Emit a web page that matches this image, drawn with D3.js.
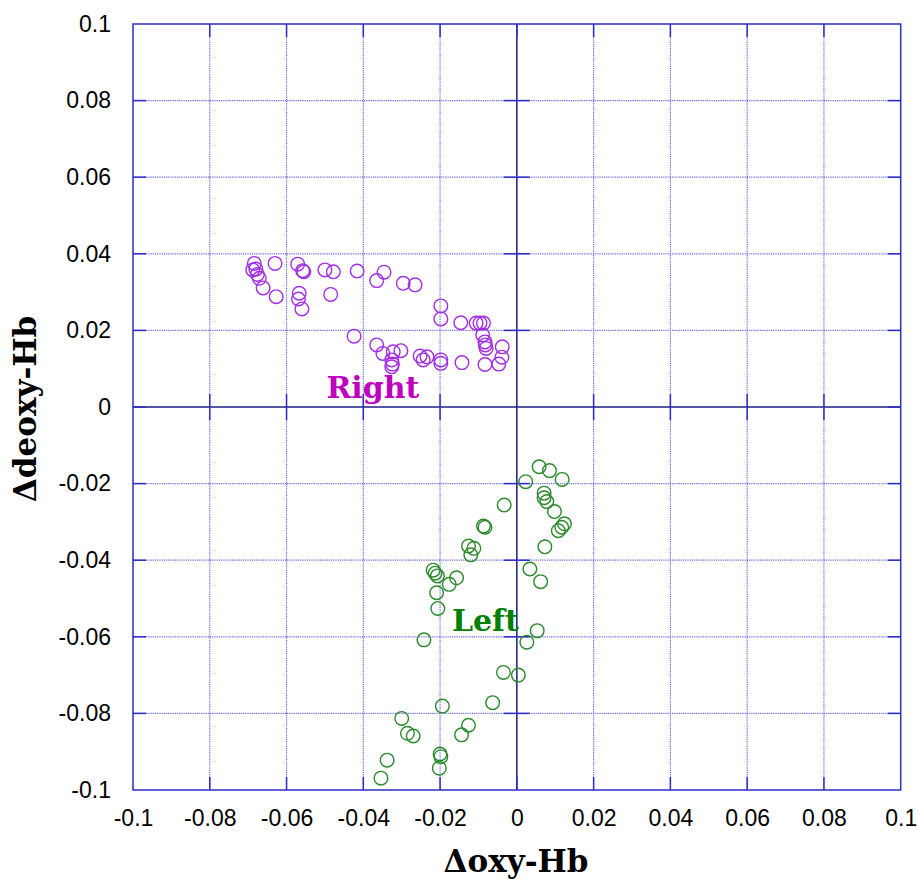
<!DOCTYPE html>
<html>
<head>
<meta charset="utf-8">
<script src="https://cdn.jsdelivr.net/npm/d3@7"></script>
<style>
  html, body { margin: 0; padding: 0; background: #fff; }
  svg { display: block; }
</style>
</head>
<body>
<svg id="chart" width="919" height="879"></svg>
<script>
// ---- data ----
const tickValues = [-0.1, -0.08, -0.06, -0.04, -0.02, 0, 0.02, 0.04, 0.06, 0.08, 0.1];
const tickLabels = ["-0.1", "-0.08", "-0.06", "-0.04", "-0.02", "0", "0.02", "0.04", "0.06", "0.08", "0.1"];

const rightOxy = [-0.0684,-0.0688,-0.0680,-0.0676,-0.0671,-0.0661,-0.0630,-0.0627,-0.0571,-0.0558,-0.0555,-0.0567,-0.0569,-0.0560,-0.0500,-0.0478,-0.0485,-0.0416,-0.0365,-0.0346,-0.0296,-0.0265,-0.0198,-0.0198,-0.0146,-0.0106,-0.0096,-0.0087,-0.0089,-0.0083,-0.0082,-0.0080,-0.0038,-0.0039,-0.0047,-0.0083,-0.0143,-0.0198,-0.0198,-0.0252,-0.0244,-0.0234,-0.0424,-0.0365,-0.0349,-0.0322,-0.0302,-0.0326,-0.0324,-0.0326];
const rightDeoxy = [0.0375,0.0358,0.0360,0.0346,0.0336,0.0311,0.0375,0.0288,0.0373,0.0356,0.0353,0.0297,0.0282,0.0256,0.0358,0.0353,0.0294,0.0355,0.0330,0.0352,0.0323,0.0319,0.0264,0.0230,0.0220,0.0219,0.0219,0.0219,0.0188,0.0170,0.0162,0.0153,0.0157,0.0130,0.0112,0.0111,0.0116,0.0123,0.0114,0.0133,0.0123,0.0131,0.0185,0.0162,0.0140,0.0144,0.0147,0.0123,0.0112,0.0105];

const leftOxy = [0.0058,0.0085,0.0118,0.0023,0.0071,0.0071,0.0078,0.0098,0.0124,0.0117,0.0108,0.0073,-0.0033,-0.0087,-0.0083,-0.0126,-0.0112,-0.0120,-0.0218,-0.0213,-0.0207,-0.0157,-0.0176,-0.0209,0.0034,0.0062,-0.0206,-0.0242,0.0053,0.0026,-0.0035,0.0004,-0.0063,-0.0194,-0.0126,-0.0144,-0.0300,-0.0285,-0.0270,-0.0200,-0.0198,-0.0202,-0.0338,-0.0354];
const leftDeoxy = [-0.0156,-0.0166,-0.0189,-0.0195,-0.0225,-0.0237,-0.0247,-0.0273,-0.0305,-0.0314,-0.0323,-0.0365,-0.0256,-0.0311,-0.0314,-0.0363,-0.0369,-0.0386,-0.0426,-0.0434,-0.0441,-0.0446,-0.0463,-0.0485,-0.0423,-0.0456,-0.0526,-0.0608,-0.0584,-0.0614,-0.0693,-0.0700,-0.0772,-0.0781,-0.0831,-0.0856,-0.0813,-0.0852,-0.0859,-0.0906,-0.0913,-0.0943,-0.0922,-0.0969];

const seriesLabels = ["Right", "Left"];
const labelPos = [[-0.0375, 0.0023], [-0.0082, -0.0585]]; // text centre/baseline (data units)
const xTitle = "Δoxy-Hb";
const yTitle = "Δdeoxy-Hb";

// ---- layout ----
const svg = d3.select("#chart");
const L = 133, R = 900.7, T = 24, B = 790;
const x = d3.scaleLinear().domain([-0.1, 0.1]).range([L, R]);
const y = d3.scaleLinear().domain([-0.1, 0.1]).range([B, T]);

const gridColor = "#6b6be6";
const borderColor = "#2c2cc8";
const axisColor = "#1c1c80";
const tickLen = 13;

const g = svg.append("g");

// dotted grid
g.selectAll("line.gx").data(tickValues.filter(v => v !== 0 && Math.abs(v) !== 0.1)).enter()
  .append("line").attr("class", "gx")
  .attr("x1", d => x(d)).attr("x2", d => x(d)).attr("y1", T).attr("y2", B)
  .attr("stroke", gridColor).attr("stroke-width", 1.2).attr("stroke-dasharray", "1.2,1");
g.selectAll("line.gy").data(tickValues.filter(v => v !== 0 && Math.abs(v) !== 0.1)).enter()
  .append("line").attr("class", "gy")
  .attr("y1", d => y(d)).attr("y2", d => y(d)).attr("x1", L).attr("x2", R)
  .attr("stroke", gridColor).attr("stroke-width", 1.2).attr("stroke-dasharray", "1.2,1");

// zero axes
g.append("line").attr("x1", x(0)).attr("x2", x(0)).attr("y1", T).attr("y2", B)
  .attr("stroke", axisColor).attr("stroke-width", 1.5);
g.append("line").attr("y1", y(0)).attr("y2", y(0)).attr("x1", L).attr("x2", R)
  .attr("stroke", axisColor).attr("stroke-width", 1.5);

// ticks on border (inward) and on zero axes
const inner = tickValues.filter(v => Math.abs(v) !== 0.1);
const tk = g.append("g").attr("stroke", borderColor).attr("stroke-width", 1.5);
inner.forEach(v => {
  tk.append("line").attr("x1", x(v)).attr("x2", x(v)).attr("y1", B).attr("y2", B - tickLen);
  tk.append("line").attr("x1", x(v)).attr("x2", x(v)).attr("y1", T).attr("y2", T + tickLen);
  tk.append("line").attr("y1", y(v)).attr("y2", y(v)).attr("x1", L).attr("x2", L + tickLen);
  tk.append("line").attr("y1", y(v)).attr("y2", y(v)).attr("x1", R).attr("x2", R - tickLen);
  if (v !== 0) {
    tk.append("line").attr("x1", x(v)).attr("x2", x(v)).attr("y1", y(0) - tickLen).attr("y2", y(0) + tickLen);
    tk.append("line").attr("y1", y(v)).attr("y2", y(v)).attr("x1", x(0) - tickLen).attr("x2", x(0) + tickLen);
  }
});

// border
g.append("rect").attr("x", L).attr("y", T).attr("width", R - L).attr("height", B - T)
  .attr("fill", "none").attr("stroke", borderColor).attr("stroke-width", 1.5);

// axes (labels only)
const fmt = d => tickLabels[tickValues.indexOf(d)];
const xAxis = svg.append("g").attr("transform", `translate(0,${B})`)
  .call(d3.axisBottom(x).tickValues(tickValues).tickFormat(fmt).tickSize(0).tickPadding(20));
const yAxis = svg.append("g").attr("transform", `translate(${L},0)`)
  .call(d3.axisLeft(y).tickValues(tickValues).tickFormat(fmt).tickSize(0).tickPadding(22));
[xAxis, yAxis].forEach(a => {
  a.select(".domain").remove();
  a.selectAll("text").attr("font-family", "'Liberation Sans', Arial, sans-serif")
    .attr("font-size", 23).attr("fill", "#000");
});

// points
const right = rightOxy.map((v, i) => [v, rightDeoxy[i]]);
const left = leftOxy.map((v, i) => [v, leftDeoxy[i]]);
svg.append("g").selectAll("circle").data(right).enter().append("circle")
  .attr("cx", d => x(d[0])).attr("cy", d => y(d[1])).attr("r", 6.8)
  .attr("fill", "none").attr("stroke", "#a32ee8").attr("stroke-width", 1.4);
svg.append("g").selectAll("circle").data(left).enter().append("circle")
  .attr("cx", d => x(d[0])).attr("cy", d => y(d[1])).attr("r", 6.8)
  .attr("fill", "none").attr("stroke", "#2a8a2a").attr("stroke-width", 1.4);

// series labels
const labelColors = ["#c000c0", "#008000"];
seriesLabels.forEach((s, i) => {
  svg.append("text").attr("x", x(labelPos[i][0])).attr("y", y(labelPos[i][1]))
    .attr("text-anchor", "middle")
    .attr("font-family", "'DejaVu Serif', serif").attr("font-weight", "bold")
    .attr("font-size", 30).attr("fill", labelColors[i]).text(s);
});

// axis titles
svg.append("text").attr("x", 516).attr("y", 872).attr("text-anchor", "middle")
  .attr("font-family", "'DejaVu Serif', serif").attr("font-weight", "bold")
  .attr("font-size", 31).attr("fill", "#000").text(xTitle);
svg.append("text").attr("transform", `translate(36,409) rotate(-90)`)
  .attr("text-anchor", "middle")
  .attr("font-family", "'DejaVu Serif', serif").attr("font-weight", "bold")
  .attr("font-size", 31).attr("fill", "#000").text(yTitle);
</script>
</body>
</html>
